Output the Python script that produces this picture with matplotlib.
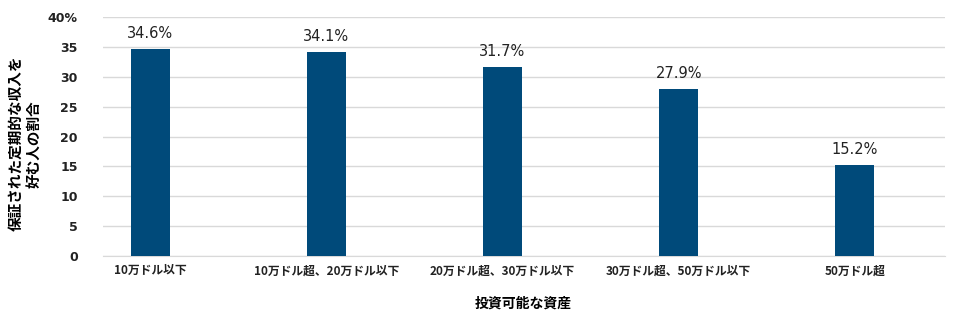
import matplotlib.pyplot as plt
import numpy as np

plt.rcParams['font.family'] = ['Noto Sans CJK JP', 'DejaVu Sans']

# データ
categories = ['10万ドル以下', '10万ドル超、20万ドル以下', '20万ドル超、30万ドル以下',
              '30万ドル超、50万ドル以下', '50万ドル超']
values = [34.6, 34.1, 31.7, 27.9, 15.2]
ytick_labels = ['0', '5', '10', '15', '20', '25', '30', '35', '40%']

fig = plt.figure(figsize=(9.6, 3.29), dpi=100)
ax = fig.add_axes([0.107, 0.222, 0.877, 0.726])

x = np.arange(len(categories))
ax.bar(x, values, width=0.22, color='#004a7a', zorder=3)

# 棒の上の数値ラベル
for xi, v in zip(x, values):
    ax.text(xi, v + 2.6, f'{v:.1f}%', ha='center', va='center',
            fontsize=10.5, family='DejaVu Sans', color='#222222')

ax.set_xlim(-0.27, 4.51)
ax.set_ylim(0, 40)
ax.set_yticks(np.arange(0, 41, 5))
ax.set_yticklabels(ytick_labels, fontsize=9, fontweight='bold',
                   family='DejaVu Sans', color='#222222')
ax.set_xticks(x)
ax.set_xticklabels(categories, fontsize=8.5, fontweight='bold', color='#222222')
ax.tick_params(axis='both', length=0)
ax.tick_params(axis='y', pad=18)
ax.tick_params(axis='x', pad=6)

ax.grid(axis='y', color='#d9d9d9', linewidth=1, zorder=0)
for s in ['top', 'right', 'left']:
    ax.spines[s].set_visible(False)
ax.spines['bottom'].set_color('#d9d9d9')

ax.set_xlabel('投資可能な資産', fontsize=10, fontweight='bold', labelpad=14)
ax.set_ylabel('保証された定期的な収入を\n好む人の割合', fontsize=10.5,
              fontweight='bold', linespacing=1.2, va='center', ha='center')
ax.yaxis.set_label_coords(-0.093, 0.47)

plt.savefig('out.png', dpi=100)
